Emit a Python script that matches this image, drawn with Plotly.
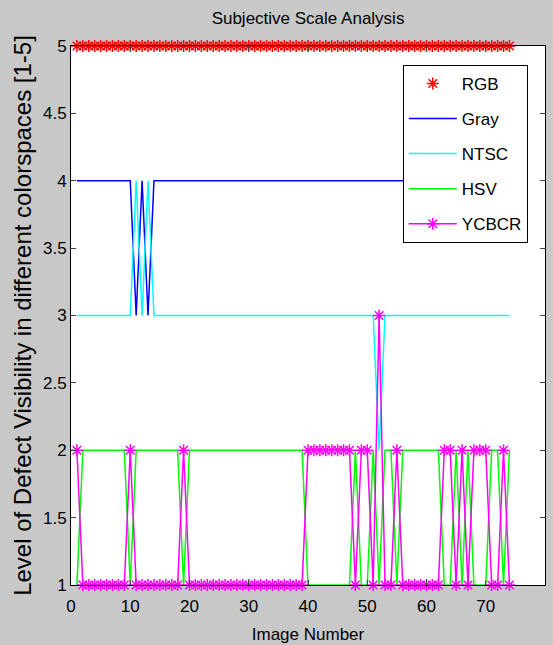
import plotly.graph_objects as go

image_number = [1, 2, 3, 4, 5, 6, 7, 8, 9, 10,
                11, 12, 13, 14, 15, 16, 17, 18, 19, 20,
                21, 22, 23, 24, 25, 26, 27, 28, 29, 30,
                31, 32, 33, 34, 35, 36, 37, 38, 39, 40,
                41, 42, 43, 44, 45, 46, 47, 48, 49, 50,
                51, 52, 53, 54, 55, 56, 57, 58, 59, 60,
                61, 62, 63, 64, 65, 66, 67, 68, 69, 70,
                71, 72, 73, 74]

rgb = [5, 5, 5, 5, 5, 5, 5, 5, 5, 5,
       5, 5, 5, 5, 5, 5, 5, 5, 5, 5,
       5, 5, 5, 5, 5, 5, 5, 5, 5, 5,
       5, 5, 5, 5, 5, 5, 5, 5, 5, 5,
       5, 5, 5, 5, 5, 5, 5, 5, 5, 5,
       5, 5, 5, 5, 5, 5, 5, 5, 5, 5,
       5, 5, 5, 5, 5, 5, 5, 5, 5, 5,
       5, 5, 5, 5]

gray = [4, 4, 4, 4, 4, 4, 4, 4, 4, 4,
        3, 4, 3, 4, 4, 4, 4, 4, 4, 4,
        4, 4, 4, 4, 4, 4, 4, 4, 4, 4,
        4, 4, 4, 4, 4, 4, 4, 4, 4, 4,
        4, 4, 4, 4, 4, 4, 4, 4, 4, 4,
        4, 4, 4, 4, 4, 4, 4, 4, 4, 4,
        4, 4, 4, 4, 4, 4, 4, 4, 4, 4,
        4, 4, 4, 4]

ntsc = [3, 3, 3, 3, 3, 3, 3, 3, 3, 3,
        4, 3, 4, 3, 3, 3, 3, 3, 3, 3,
        3, 3, 3, 3, 3, 3, 3, 3, 3, 3,
        3, 3, 3, 3, 3, 3, 3, 3, 3, 3,
        3, 3, 3, 3, 3, 3, 3, 3, 3, 3,
        3, 2, 3, 3, 3, 3, 3, 3, 3, 3,
        3, 3, 3, 3, 3, 3, 3, 3, 3, 3,
        3, 3, 3, 3]

hsv = [1, 2, 2, 2, 2, 2, 2, 2, 2, 1,
       2, 2, 2, 2, 2, 2, 2, 2, 1, 2,
       2, 2, 2, 2, 2, 2, 2, 2, 2, 2,
       2, 2, 2, 2, 2, 2, 2, 2, 2, 1,
       1, 1, 1, 1, 1, 1, 1, 2, 1, 1,
       2, 1, 2, 2, 1, 2, 2, 2, 2, 2,
       2, 2, 1, 1, 2, 1, 2, 1, 1, 1,
       2, 2, 1, 2]

ycbcr = [2, 1, 1, 1, 1, 1, 1, 1, 1, 2,
         1, 1, 1, 1, 1, 1, 1, 1, 2, 1,
         1, 1, 1, 1, 1, 1, 1, 1, 1, 1,
         1, 1, 1, 1, 1, 1, 1, 1, 1, 2,
         2, 2, 2, 2, 2, 2, 2, 1, 2, 2,
         1, 3, 1, 1, 2, 1, 1, 1, 1, 1,
         1, 1, 2, 2, 1, 2, 1, 2, 2, 2,
         1, 1, 2, 1]

x_ticks = [0, 10, 20, 30, 40, 50, 60, 70, 80]
y_ticks = [1, 1.5, 2, 2.5, 3, 3.5, 4, 4.5, 5]

FONT = "Liberation Sans, Arial, sans-serif"

fig = go.Figure()
fig.add_trace(go.Scatter(x=image_number, y=rgb, name="RGB", mode="markers",
                         marker=dict(symbol="asterisk-open", size=10, color="#ff0000",
                                     line=dict(color="#ff0000", width=1.5)),
                         cliponaxis=False, legendgroup="a"))
fig.add_trace(go.Scatter(x=image_number, y=gray, name="Gray", mode="lines",
                         line=dict(color="#0000ff", width=1.5), legendgroup="b"))
fig.add_trace(go.Scatter(x=image_number, y=ntsc, name="NTSC", mode="lines",
                         line=dict(color="#00ffff", width=1.5), legendgroup="c"))
fig.add_trace(go.Scatter(x=image_number, y=hsv, name="HSV", mode="lines",
                         line=dict(color="#00ff00", width=1.5), legendgroup="d"))
fig.add_trace(go.Scatter(x=image_number, y=ycbcr, name="YCBCR", mode="lines+markers",
                         line=dict(color="#ff00ff", width=1.5),
                         marker=dict(symbol="asterisk-open", size=10, color="#ff00ff",
                                     line=dict(color="#ff00ff", width=1.5)),
                         cliponaxis=False, legendgroup="e"))

fig.update_layout(
    width=553, height=645,
    margin=dict(l=71, r=8, t=46, b=60, autoexpand=False),
    paper_bgcolor="#c8c8c8",
    plot_bgcolor="#ffffff",
    font=dict(family=FONT, size=16, color="#000000"),
    title=dict(text="Subjective Scale Analysis", x=0.557, xanchor="center",
               y=0.972, yanchor="middle", font=dict(size=17)),
    showlegend=True,
    legend=dict(x=0.70, y=0.965, xanchor="left", yanchor="top",
                bgcolor="#ffffff", bordercolor="#000000", borderwidth=1,
                font=dict(size=17), traceorder="grouped", tracegroupgap=10,
                itemwidth=48),
    xaxis=dict(range=[0, 80], tickvals=x_ticks, ticks="inside", ticklen=5,
               showline=True, linecolor="#000000", linewidth=1, mirror="ticks",
               showgrid=False, zeroline=False, tickfont=dict(size=17),
               automargin=False, ticklabelstandoff=6,
               title=dict(text="Image Number", font=dict(size=17), standoff=12)),
    yaxis=dict(range=[1, 5], tickvals=y_ticks, ticks="inside", ticklen=5,
               showline=True, linecolor="#000000", linewidth=1, mirror="ticks",
               showgrid=False, zeroline=False, tickfont=dict(size=17),
               automargin=False,
               title=dict(text="Level of Defect Visibility in different colorspaces [1-5]",
                          font=dict(size=24), standoff=4)),
)

fig.write_html("out.html",
               config={"displayModeBar": False},
               post_script="document.body.style.margin='0';"
                           "document.body.style.background='#c8c8c8';")
